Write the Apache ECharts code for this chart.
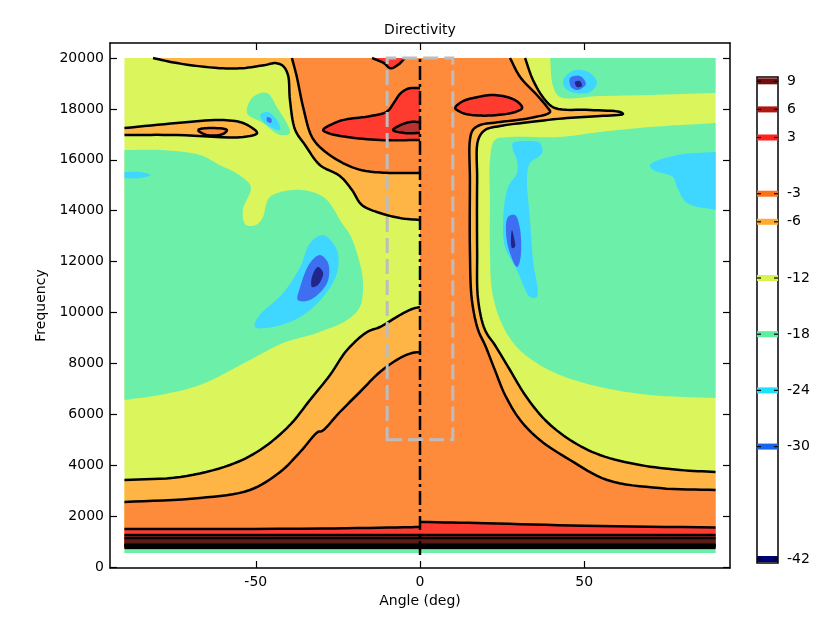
<!DOCTYPE html>
<html><head><meta charset="utf-8">
<script src="https://cdn.jsdelivr.net/npm/echarts@6/dist/echarts.min.js"></script>
<style>html,body{margin:0;padding:0;background:#fff}#c{width:839px;height:617px}</style>
</head><body><div id="c"></div>
<script>
// ---------------- axis / tick data ----------------
const angleTicks = [-50, 0, 50];
const freqTicks = [0, 2000, 4000, 6000, 8000, 10000, 12000, 14000, 16000, 18000, 20000];
const colorbarLevels = [9, 6, 3, -3, -6, -12, -18, -24, -30, -42];

// ---------------- contour regions: [angle (deg), frequency (Hz)] ----------------
const bgYellow = [[-90,550],[90,550],[90,20000],[-90,20000]];
const greenBottom = [[-90,550],[90,550],[90,670],[-90,670]];
const greenLeft = [[-90,16385],[-79.2,16385],[-67,16189],[-61,15796],[-55,15400],[-51.5,14930],[-54,14000],[-53,13440],[-50,13440],[-48,13700],[-46,14500],[-42,14750],[-35,14800],[-29,14500],[-25.5,13900],[-24.4,13634],[-21.3,13045],[-19.2,12338],[-17.4,11277],[-18.3,10216],[-22.2,9705],[-31.4,9194],[-41.7,8801],[-51.8,8134],[-67,7151],[-79.2,6758],[-90,6562]];
const greenUpperLeft = [[-50.9,18468],[-46.6,18625],[-43.6,18075],[-39.6,17053],[-42.6,16975],[-47.8,17446],[-52.7,17839]];
const greenTopRight = [[39.6,20000],[90,20000],[90,18625],[70,18546],[54.8,18507],[42.6,18468],[40.5,18900]];
const greenRight = [[90,17446],[70,17289],[54.8,17092],[42.6,16896],[27.4,16896],[22.8,16778],[21.3,15992],[21.3,14420],[21.3,12456],[21.9,10884],[24.4,9705],[28.9,8723],[35,8055],[42.6,7544],[54.8,7073],[70,6758],[90,6640]];

const orangeMain = [[-90,750],[90,750],[90,3733],[79.2,3811],[67,4008],[54.8,4400],[45.7,4990],[38.1,5776],[32,6758],[27.4,7740],[22.8,8723],[19.8,9312],[17.7,10491],[17.4,12456],[17.4,15206],[17.7,16778],[19.8,17171],[24.4,17328],[33.5,17485],[44.8,17642],[54.8,17721],[61.8,17800],[60.9,17878],[51.8,17957],[41.1,18035],[38.1,18350],[34.4,19136],[32,20000],[-81.3,20000],[-74,19800],[-61,19600],[-54,19600],[-47.2,19725],[-44,19800],[-41.7,19686],[-40.2,19332],[-39.6,18350],[-38,17171],[-35,16582],[-30.5,15796],[-24.4,15363],[-20.7,14813],[-17.7,14224],[-12.2,13910],[-6.1,13713],[0,13634],[0,10216],[-2.4,10138],[-6.1,9902],[-12.2,9430],[-16.1,9234],[-22.2,8527],[-27.4,7544],[-33.5,6562],[-39.6,5580],[-48.7,4597],[-57.9,4008],[-73,3536],[-90,3418]];
const orangeTongueLeft = [[-90,17249],[-74,17446],[-60.9,17564],[-53.9,17446],[-49.6,17053],[-53.9,16896],[-74,16975],[-90,16975]];

const redOrangeMain = [[-90,790],[90,790],[90,3025],[73,3100],[57,3418],[45.7,4204],[36.5,4990],[30.5,5776],[25.9,6758],[22.8,7740],[19.8,8723],[17.7,9312],[15.8,10491],[15.2,12456],[15.2,15206],[15.2,16778],[16.1,17171],[18.3,17367],[24.4,17485],[33.5,17642],[39.6,17878],[38.7,18075],[35.6,18546],[30.5,19254],[27.4,20000],[-39,20000],[-37.5,19254],[-35.6,18075],[-32.9,16896],[-29.5,16385],[-23.5,15874],[-18,15600],[-12,15500],[-5,15480],[0,15480],[0,8448],[-2.4,8409],[-6.1,8212],[-12.2,7662],[-18.3,6876],[-24.4,6090],[-29.8,5344],[-31.1,5305],[-36.5,4519],[-42.6,3733],[-51.8,3026],[-67,2711],[-90,2554]];
const redOrangeTongueLeft = [[-67.6,17171],[-64,17249],[-58.8,17171],[-60,17014],[-64.9,16975]];

const redBottom = [[-90,830],[90,830],[90,1550],[50,1620],[20,1720],[0,1770],[0,1570],[-5,1560],[-30,1510],[-90,1490]];
const redLeft = [[-29.5,17171],[-25,17500],[-22,17600],[-15,17720],[-10,17900],[-8,18232],[-6,18600],[-3.5,18800],[0,18821],[0,16778],[-12.2,16778],[-22.2,16896],[-28,17053]];
const redTop = [[-14.6,20000],[-11,19800],[-9,19600],[-6.5,19750],[-4.6,20000]];
const redRight = [[10.7,18035],[13,18300],[17,18450],[22,18546],[27,18450],[30,18250],[31.1,18035],[29,17880],[23.5,17760],[18,17740],[14,17800],[12,17900]];

const darkRedBottom = [[-90,855],[90,855],[90,1260],[-90,1260]];
const darkRedLeft = [[-8.2,17171],[-6,17360],[-3,17485],[0,17485],[0,17053],[-4.6,17053]];
const peakBottom = [[-90,870],[90,870],[90,1140],[-90,1140]];

const cyanUpperLeft = [[-48.7,17760],[-46.3,17878],[-43.2,17485],[-42.6,17171],[-45,17249],[-47.8,17524]];
const cyanLeftSmall = [[-90,15520],[-85.4,15520],[-82,15400],[-85.4,15280],[-90,15280]];
const cyanLeft = [[-29.5,13045],[-25.3,12456],[-25.3,11552],[-29.5,10609],[-36.5,9823],[-44.8,9430],[-50.3,9430],[-49.3,9823],[-41.7,10766],[-36.5,11788],[-33.5,12731]];
const cyanTopRight = [[43.6,19136],[47.2,19529],[51.8,19411],[53.9,19018],[51.8,18664],[47.2,18625],[44.2,18821]];
const cyanRight = [[28.3,16660],[32.6,16739],[36.5,16660],[37.2,16267],[33.5,15874],[32.6,15324],[33.5,13635],[34.4,12063],[35.6,10609],[33.5,10609],[29.5,11670],[25.9,12574],[25.3,13635],[26.8,14931],[29.5,15481],[29.5,15992],[28.3,16385]];
const cyanFarRight = [[90,16307],[78.3,16189],[70,15796],[71,15599],[77,15324],[78.3,14931],[81.3,14303],[90,14028]];

const blueUpperLeft = [[-46.5,17680],[-45.2,17600],[-45.4,17450],[-46.6,17520]];
const blueLeft = [[-30.5,12259],[-28,11945],[-28.3,11159],[-33.5,10491],[-37.2,10491],[-36.5,11002],[-33.5,11945]];
const blueTopRight = [[45.7,19214],[48.7,19293],[50.5,18978],[48.1,18743],[46,18860]];
const blueRight = [[26.8,13752],[28.9,13831],[30.5,13242],[30.5,12063],[29.5,11788],[27.4,12338],[26.2,13124]];

const navyLeft = [[-31.1,11788],[-29.5,11552],[-31.1,11081],[-32.9,11002],[-32.9,11395]];
const navyTopRight = [[47.2,19057],[48.7,19096],[49.3,18900],[47.8,18860]];
const navyRight = [[28,13242],[28.6,12967],[28.9,12574],[28,12534],[27.7,12849]];

// overlays
const centerLine = [[0,470],[0,20000]];
const dashedBox = [[-10,5000],[10,5000],[10,20000],[-10,20000]];

// region list: [outline, lower contour level of the band]
const layers = [
  [bgYellow,-12],
  [greenBottom,-18],[greenLeft,-18],[greenUpperLeft,-18],[greenTopRight,-18],[greenRight,-18],
  [orangeMain,-6],[orangeTongueLeft,-6],
  [redOrangeMain,-3],[redOrangeTongueLeft,-3],
  [redBottom,3],[redLeft,3],[redTop,3],[redRight,3],
  [darkRedBottom,6],[darkRedLeft,6],[peakBottom,9],
  [cyanUpperLeft,-24],[cyanLeftSmall,-24],[cyanLeft,-24],[cyanTopRight,-24],[cyanRight,-24],[cyanFarRight,-24],
  [blueUpperLeft,-30],[blueLeft,-30],[blueTopRight,-30],[blueRight,-30],
  [navyLeft,-42],[navyTopRight,-42],[navyRight,-42]
];

// ---------------- styles ----------------
const fillColor = {'-42':'#22268a','-30':'#3d6ff0','-24':'#3fd7ff','-18':'#6cf0a9','-12':'#daf65c',
  '-6':'#ffb446','-3':'#fe8a3c','3':'#ff3b30','6':'#b83232','9':'#5a1c14'};
const barColor = {'9':'#730d0d','6':'#b11616','3':'#ff2222','-3':'#ff7018','-6':'#ffaa30','-12':'#d6f44c',
  '-18':'#5cee9f','-24':'#1ee0fa','-30':'#1a62f0','-42':'#000070'};
const strokedLevels = [-6,-3,3,6,9];
const FONT = 'DejaVu Sans';

// ---- outline helpers: split each outline into runs (border / 0° seam segments are not contour lines)
function edgeSkip(p,q){
  if (p[0]===q[0] && (p[0]===-90 || p[0]===90 || p[0]===0)) return true;
  if (p[1]===q[1] && (p[1]===20000 || p[1]===550)) return true;
  return false;
}
function outlineRuns(pts){
  const n = pts.length, skip = [];
  for (let i=0;i<n;i++) skip.push(edgeSkip(pts[i], pts[(i+1)%n]));
  const start = skip.indexOf(true);
  if (start < 0) return {closed:true, runs:[pts.slice()]};
  const runs = []; let cur = null;
  for (let k=1;k<=n;k++){
    const i = (start+k)%n;
    if (!cur) cur = [pts[i]];
    if (skip[i]) { runs.push(cur); cur = null; }
    else cur.push(pts[(i+1)%n]);
  }
  if (cur) runs.push(cur);
  return {closed:false, runs:runs};
}
// centripetal Catmull-Rom in pixel space (rendering only)
function crSegment(p0,p1,p2,p3,seg,out){
  const d=(p,q)=>Math.max(1e-3, Math.pow(Math.hypot(q[0]-p[0],q[1]-p[1]),0.5));
  const t0=0, t1=t0+d(p0,p1), t2=t1+d(p1,p2), t3=t2+d(p2,p3);
  const mix=(a,b,wa,wb)=>[a[0]*wa+b[0]*wb, a[1]*wa+b[1]*wb];
  for (let k=0;k<seg;k++){
    const t=t1+(t2-t1)*k/seg;
    const A1=mix(p0,p1,(t1-t)/(t1-t0),(t-t0)/(t1-t0));
    const A2=mix(p1,p2,(t2-t)/(t2-t1),(t-t1)/(t2-t1));
    const A3=mix(p2,p3,(t3-t)/(t3-t2),(t-t2)/(t3-t2));
    const B1=mix(A1,A2,(t2-t)/(t2-t0),(t-t0)/(t2-t0));
    const B2=mix(A2,A3,(t3-t)/(t3-t1),(t-t1)/(t3-t1));
    out.push(mix(B1,B2,(t2-t)/(t2-t1),(t-t1)/(t2-t1)));
  }
}
function smoothPx(px, closed){
  const n=px.length, out=[], seg=8;
  if (n<3) return px.slice();
  const ext=(a,b)=>[2*a[0]-b[0], 2*a[1]-b[1]];
  const get=i=>{
    if (closed) return px[(i+n)%n];
    if (i<0) return ext(px[0],px[1]);
    if (i>n-1) return ext(px[n-1],px[n-2]);
    return px[i];
  };
  const m = closed ? n : n-1;
  for (let i=0;i<m;i++) crSegment(get(i-1),get(i),get(i+1),get(i+2),seg,out);
  if (!closed) out.push(px[n-1]);
  return out;
}
const layerRuns = layers.map(l => outlineRuns(l[0]));
const contourPaths = [];
layers.forEach((l,i) => { if (strokedLevels.indexOf(l[1]) >= 0) layerRuns[i].runs.forEach(r => { if (r.length>1) contourPaths.push({run:r, closed:layerRuns[i].closed}); }); });

const chart = echarts.init(document.getElementById('c'), null, {renderer:'canvas'});
const axisLineStyle = {color:'#000', width:1.5};
const tickStyle = {color:'#000', width:1.2};
const plain = v => String(v);

chart.setOption({
  animation: false,
  backgroundColor: '#fff',
  graphic: [{type:'text', x:420, y:30, style:{text:'Directivity', fill:'#000', font:'14px "DejaVu Sans"', textAlign:'center', textVerticalAlign:'middle'}}],
  grid: [
    {left:110, top:43, width:620, height:525, show:false},
    {left:757, top:77, width:21, height:486, show:true, borderColor:'#000', borderWidth:1.5, backgroundColor:'#fff'}
  ],
  xAxis: [
    {gridIndex:0, type:'value', min:-94.4, max:94.4, position:'bottom',
     axisLine:{show:true, onZero:false, lineStyle:axisLineStyle},
     axisTick:{show:true, inside:true, length:7, customValues:angleTicks, lineStyle:tickStyle},
     axisLabel:{customValues:angleTicks, formatter:plain, color:'#000', fontSize:14, fontFamily:FONT, margin:7},
     splitLine:{show:false},
     name:'Angle (deg)', nameLocation:'middle', nameGap:22, nameTextStyle:{color:'#000', fontSize:14, fontFamily:FONT}},
    {gridIndex:0, type:'value', min:-94.4, max:94.4, position:'top',
     axisLine:{show:true, onZero:false, lineStyle:axisLineStyle},
     axisTick:{show:true, inside:true, length:7, customValues:angleTicks, lineStyle:tickStyle},
     axisLabel:{show:false}, splitLine:{show:false}},
    {gridIndex:1, type:'value', min:0, max:1, show:false}
  ],
  yAxis: [
    {gridIndex:0, type:'value', min:-40, max:20590, position:'left',
     axisLine:{show:true, onZero:false, lineStyle:axisLineStyle},
     axisTick:{show:true, inside:true, length:7, customValues:freqTicks, lineStyle:tickStyle},
     axisLabel:{customValues:freqTicks, formatter:plain, color:'#000', fontSize:14, fontFamily:FONT, margin:6},
     splitLine:{show:false},
     name:'Frequency', nameLocation:'middle', nameGap:52, nameTextStyle:{color:'#000', fontSize:14, fontFamily:FONT}},
    {gridIndex:0, type:'value', min:-40, max:20590, position:'right',
     axisLine:{show:true, onZero:false, lineStyle:axisLineStyle},
     axisTick:{show:true, inside:true, length:7, customValues:freqTicks, lineStyle:tickStyle},
     axisLabel:{show:false}, splitLine:{show:false}},
    {gridIndex:1, type:'value', min:-42.43, max:9.46, position:'right',
     axisLine:{show:false}, axisTick:{show:false}, splitLine:{show:false},
     axisLabel:{customValues:colorbarLevels, formatter:plain, color:'#000', fontSize:14, fontFamily:FONT, margin:9}}
  ],
  series: [
    {type:'custom', name:'fills', xAxisIndex:0, yAxisIndex:0, z:1, clip:true, silent:true,
     data: layers.map(l => l[0][0]),
     renderItem: function(params, api){
       const i = params.dataIndex, lr = layerRuns[i];
       let pts = [];
       if (lr.closed) pts = smoothPx(lr.runs[0].map(p => api.coord(p)), true);
       else lr.runs.forEach(r => { pts = pts.concat(smoothPx(r.map(p => api.coord(p)), false)); });
       return {type:'polygon', shape:{points:pts}, style:{fill:fillColor[String(layers[i][1])], stroke:null}};
     }},
    {type:'custom', name:'contours', xAxisIndex:0, yAxisIndex:0, z:2, clip:true, silent:true,
     data: contourPaths.map(p => p.run[0]),
     renderItem: function(params, api){
       const c = contourPaths[params.dataIndex];
       let pts = smoothPx(c.run.map(q => api.coord(q)), c.closed);
       if (c.closed) pts = pts.concat([pts[0]]);
       return {type:'polyline', shape:{points:pts}, style:{stroke:'#000', lineWidth:2.5, fill:null, lineJoin:'round'}};
     }},
    {type:'custom', name:'box', xAxisIndex:0, yAxisIndex:0, z:3, silent:true,
     data: [dashedBox[0]],
     renderItem: function(params, api){
       return {type:'polygon', shape:{points:dashedBox.map(q => api.coord(q))}, style:{stroke:'#bdbdbd', lineWidth:3, fill:null, lineDash:[15,6]}};
     }},
    {type:'custom', name:'center', xAxisIndex:0, yAxisIndex:0, z:4, silent:true,
     data: [centerLine[0]],
     renderItem: function(params, api){
       return {type:'polyline', shape:{points:centerLine.map(q => api.coord(q))}, style:{stroke:'#000', lineWidth:2.5, fill:null, lineDash:[14,4,3,4]}};
     }},
    {type:'custom', name:'colorbar', xAxisIndex:2, yAxisIndex:2, z:3, silent:true,
     data: colorbarLevels.map(v => [0.5, v]),
     renderItem: function(params, api){
       const cs = params.coordSys;
       const v = api.value(1);
       const y = api.coord([0.5, v])[1];
       return {type:'group', children:[
         {type:'rect', shape:{x:cs.x, y:y-3, width:cs.width, height:6}, style:{fill:barColor[String(v)]}},
         {type:'line', shape:{x1:cs.x, y1:y, x2:cs.x+4, y2:y}, style:{stroke:'#000', lineWidth:1.2}},
         {type:'line', shape:{x1:cs.x+cs.width-4, y1:y, x2:cs.x+cs.width, y2:y}, style:{stroke:'#000', lineWidth:1.2}}
       ]};
     }}
  ]
});
</script></body></html>
